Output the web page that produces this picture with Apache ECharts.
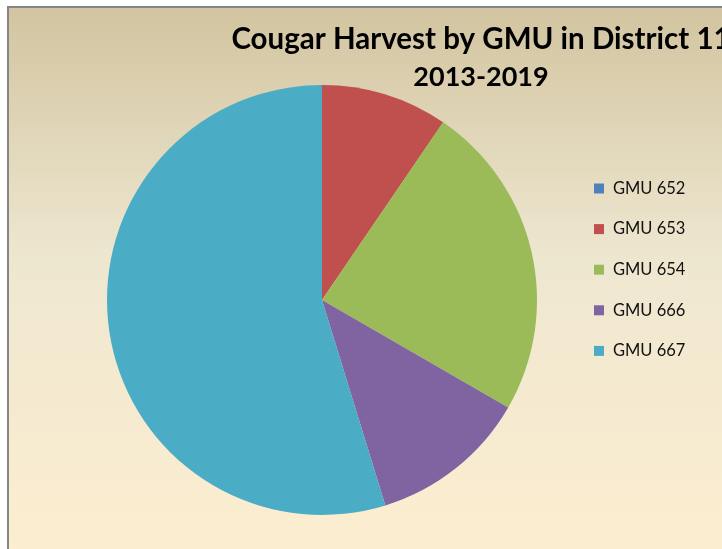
<!DOCTYPE html>
<html>
<head>
<meta charset="utf-8">
<script src="https://cdn.jsdelivr.net/npm/echarts@6/dist/echarts.min.js"></script>
<style>
  html, body { margin: 0; padding: 0; background: #ffffff; }
  #chart { width: 722px; height: 549px; }
</style>
</head>
<body>
<div id="chart"></div>
<script>
// Cougar harvest counts per Game Management Unit, 2013-2019
var units = ['GMU 652', 'GMU 653', 'GMU 654', 'GMU 666', 'GMU 667'];
var harvest = [0, 4, 10, 5, 23];
var sliceColors = ['#4F81BD', '#C0504D', '#9BBB59', '#8064A2', '#4BACC6'];
var titleLines = ['Cougar Harvest by GMU in District 11', '2013-2019'];

var chart = echarts.init(document.getElementById('chart'), null, { renderer: 'canvas' });

var pieData = units.map(function (name, i) {
  return { name: name, value: harvest[i], itemStyle: { color: sliceColors[i] } };
});

chart.setOption({
  animation: false,
  backgroundColor: '#ffffff',
  graphic: [
    {
      type: 'rect',
      z: -10,
      shape: { x: 8, y: 7, width: 730, height: 560 },
      style: {
        fill: new echarts.graphic.LinearGradient(0, 0, 0, 1, [
          { offset: 0, color: '#d2c4a0' },
          { offset: 0.45, color: '#eee7d0' },
          { offset: 1, color: '#fdeed0' }
        ]),
        stroke: '#858585',
        lineWidth: 2
      }
    }
  ],
  title: {
    text: '{a|' + titleLines[0] + '}\n{b|' + titleLines[1] + '}',
    left: 476,
    top: 15,
    textAlign: 'center',
    textStyle: {
      rich: {
        a: { fontFamily: 'Lato', fontWeight: 'bold', fontSize: 29.5, lineHeight: 38, color: '#000000' },
        b: { fontFamily: 'Lato', fontWeight: 'bold', fontSize: 27, lineHeight: 38, color: '#000000' }
      }
    }
  },
  legend: {
    orient: 'vertical',
    left: 589,
    top: 175,
    icon: 'rect',
    itemWidth: 10,
    itemHeight: 10,
    itemGap: 23.6,
    data: units,
    textStyle: {
      fontFamily: 'Lato',
      fontSize: 16.5,
      color: '#111111',
      padding: [0, 0, 0, 4]
    }
  },
  series: [
    {
      type: 'pie',
      center: [322, 300],
      radius: 215,
      startAngle: 90,
      clockwise: true,
      label: { show: false },
      labelLine: { show: false },
      emphasis: { disabled: true },
      data: pieData
    }
  ]
});
</script>
</body>
</html>
